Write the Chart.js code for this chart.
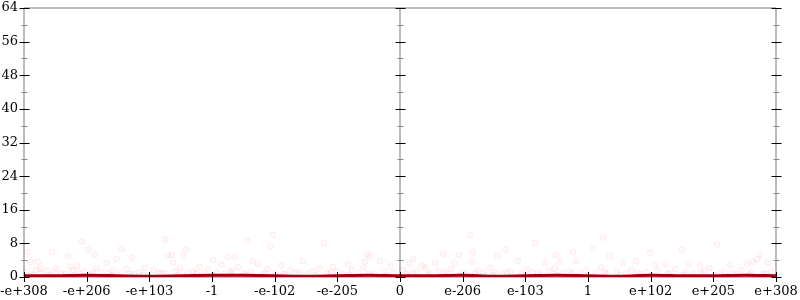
<!DOCTYPE html>
<html>
<head>
<meta charset="utf-8">
<script src="https://cdn.jsdelivr.net/npm/chart.js@4"></script>
<style>
  html, body { margin: 0; padding: 0; background: #fff; }
  #wrap { width: 800px; height: 300px; }
</style>
</head>
<body>
<div id="wrap"><canvas id="floatPlot"></canvas></div>
<script>
// tick labels of the x axis (one per integer step from -6 to 6)
const tickLabels = ['-e+308', '-e+206', '-e+103', '-1', '-e-102', '-e-205', '0',
                    'e-206', 'e-103', '1', 'e+102', 'e+205', 'e+308'];
const yTicks = [0, 8, 16, 24, 32, 40, 48, 56, 64];

// dark red count line
const lineX = [-6, -5.5, -5, -4.5, -4, -3.5, -3, -2.5, -2, -1.5, -1, -0.5, 0,
               0.5, 1, 1.5, 2, 2.5, 3, 3.5, 4, 4.5, 5, 5.5, 6];
const lineY = [0.3, 0.3, 0.4, 0.3, 0.2, 0.3, 0.4, 0.4, 0.3, 0.2, 0.3, 0.4, 0.3,
               0.3, 0.4, 0.2, 0.3, 0.4, 0.3, 0.2, 0.4, 0.3, 0.3, 0.4, 0.3];

// faint pink samples
const scatterX = [
  -5.94, -5.9, -5.78, -5.74, -5.55, -5.3, -5.27, -5.15, -5.07, -4.98, -4.87, -4.68, -4.52, -4.44,
  -4.28, -4.07, -3.75, -3.7, -3.64, -3.62, -3.46, -3.41, -3.2, -2.98, -2.85, -2.63, -2.74, -2.44,
  -2.35, -2.27, -2.07, -2.03, -1.9, -1.55, -1.21, -1.07, -0.83, -0.56, -0.53, -0.48, -0.32, -0.15,
  0.15, 0.21, 0.36, 0.56, 0.69, 0.87, 0.94, 1.12, 1.16, 1.15, 1.56, 1.68, 1.88, 2.15, 2.31, 2.49,
  2.55, 2.76, 2.81, 3.08, 3.24, 3.35, 3.56, 3.77, 3.99, 4.07, 4.23, 4.5, 4.6, 4.79, 5.06, 5.27,
  5.54, 5.63, 5.7, 5.74, 5.87,
  -5.97, -5.88, -5.81, -5.72, -5.63, -5.58, -5.49, -5.41, -5.33, -5.22, -5.12, -5.03, -4.94, -4.85,
  -4.77, -4.66, -4.58, -4.47, -4.36, -4.25, -4.16, -4.02, -3.93, -3.85, -3.74, -3.58, -3.51, -3.39,
  -3.3, -3.14, -3.06, -2.93, -2.8, -2.69, -2.58, -2.49, -2.38, -2.2, -2.12, -1.99, -1.86, -1.75,
  -1.66, -1.48, -1.39, -1.28, -1.16, -1.0, -0.9, -0.77, -0.66, -0.58, -0.42, -0.26, -0.1, 0.04,
  0.1, 0.27, 0.41, 0.49, 0.62, 0.76, 0.82, 1.0, 1.07, 1.24, 1.33, 1.44, 1.52, 1.63, 1.76, 1.94,
  2.03, 2.12, 2.26, 2.38, 2.47, 2.6, 2.69, 2.88, 2.97, 3.12, 3.21, 3.3, 3.46, 3.61, 3.7, 3.84,
  3.93, 4.12, 4.3, 4.39, 4.55, 4.68, 4.85, 4.94, 5.1, 5.19, 5.36, 5.45, 5.6, 5.79, 5.92,
  -5.85, -5.52, -5.18, -4.9, -4.6, -4.32, -4.1, -3.8, -3.55, -3.25, -2.97, -2.7, -2.43, -2.15,
  -1.83, -1.6, -1.33, -1.1, -0.8, -0.5, -0.22, 0.2, 0.45, 0.7, 0.95, 1.2, 1.48, 1.7, 1.99, 2.2,
  2.5, 2.75, 3.0, 3.27, 3.52, 3.79, 4.02, 4.27, 4.52, 4.8, 5.03, 5.3, 5.58, 5.84
];
const scatterY = [
  6.0, 3.6, 3.6, 2.0, 6.0, 5.0, 2.4, 2.6, 8.4, 6.5, 5.3, 3.4, 4.3, 6.7,
  4.6, 2.2, 8.9, 5.2, 5.2, 3.4, 5.0, 6.4, 2.4, 4.1, 2.9, 4.8, 4.8, 8.6,
  3.8, 3.1, 7.2, 10.0, 2.7, 3.8, 8.1, 2.4, 3.1, 3.6, 5.5, 4.8, 3.8, 2.5,
  3.2, 4.3, 2.6, 3.4, 5.5, 3.4, 5.3, 10.0, 5.8, 3.6, 5.0, 6.5, 3.8, 8.1, 3.4, 5.3,
  3.6, 6.0, 3.8, 6.7, 9.4, 5.0, 3.4, 3.8, 5.8, 2.9, 3.1, 6.5, 3.1, 2.9, 7.7, 2.9,
  3.1, 3.6, 4.3, 5.3, 3.4,
  1.2, 0.6, 1.8, 0.9, 1.4, 0.5, 2.1, 1.0, 0.7, 1.6, 0.9, 1.3, 0.6, 2.0,
  1.1, 0.8, 1.5, 0.9, 1.9, 0.7, 1.2, 0.5, 1.7, 1.0, 0.8, 1.4, 2.2, 0.9,
  1.3, 0.6, 1.8, 1.0, 0.7, 1.5, 2.3, 0.9, 1.2, 0.6, 1.9, 1.0, 0.8, 1.6,
  1.1, 0.7, 1.4, 2.0, 0.9, 1.2, 0.6, 1.7, 1.0, 2.2, 0.8, 1.3, 0.9, 1.6,
  0.7, 1.2, 2.1, 0.8, 1.4, 0.9, 1.9, 1.1, 0.6, 1.5, 0.9, 2.2, 1.0, 0.7, 1.3, 0.8,
  1.8, 1.0, 0.6, 1.4, 2.0, 0.9, 1.2, 0.7, 1.6, 1.0, 2.2, 0.8, 1.3, 0.9, 1.7, 0.6,
  1.1, 1.5, 0.8, 1.9, 1.0, 0.7, 1.4, 2.1, 0.9, 1.2, 0.7, 1.6, 1.0, 0.8, 1.3,
  0.4, 0.9, 0.5, 1.1, 0.4, 0.8, 0.5, 1.0, 0.4, 0.7, 0.5, 1.0, 0.4, 0.8,
  0.5, 0.9, 0.4, 1.1, 0.5, 0.8, 0.4, 0.9, 0.5, 1.0, 0.4, 0.8, 0.5, 1.1, 0.4, 0.9,
  0.5, 0.8, 0.4, 1.0, 0.5, 0.9, 0.4, 0.8, 0.5, 1.1, 0.4, 0.9, 0.5, 0.8
];

// vertical axes drawn at these x values
const axisAt = [-6, 0, 6];

const lineData = lineX.map((v, i) => ({ x: v, y: lineY[i] }));
const pinkData = scatterX.map((v, i) => ({ x: v, y: scatterY[i] }));

// axis lines + crossing tick marks
const axisDecor = {
  id: 'axisDecor',
  beforeDatasetsDraw(chart) {
    const { ctx, scales: { x, y } } = chart;
    ctx.save();
    ctx.strokeStyle = '#bbbbbb';
    ctx.lineWidth = 2;
    ctx.beginPath();
    ctx.moveTo(x.left, y.getPixelForValue(y.max));
    ctx.lineTo(x.right, y.getPixelForValue(y.max));
    ctx.moveTo(x.left, y.getPixelForValue(0));
    ctx.lineTo(x.right, y.getPixelForValue(0));
    axisAt.forEach(a => {
      const px = x.getPixelForValue(a);
      ctx.moveTo(px, y.top);
      ctx.lineTo(px, y.bottom);
    });
    ctx.stroke();
    ctx.restore();
  },
  afterDatasetsDraw(chart) {
    const { ctx, scales: { x, y } } = chart;
    ctx.save();
    ctx.lineWidth = 1;
    axisAt.forEach(a => {
      const px = Math.round(x.getPixelForValue(a)) + 0.5;
      yTicks.forEach((t, i) => {
        const py = Math.round(y.getPixelForValue(t)) + 0.5;
        ctx.strokeStyle = '#000';
        ctx.beginPath(); ctx.moveTo(px - 5, py); ctx.lineTo(px + 5, py); ctx.stroke();
        if (i < yTicks.length - 1) {
          const pm = Math.round(y.getPixelForValue((t + yTicks[i + 1]) / 2)) + 0.5;
          ctx.strokeStyle = '#888';
          ctx.beginPath(); ctx.moveTo(px - 3, pm); ctx.lineTo(px + 3, pm); ctx.stroke();
        }
      });
    });
    const py0 = y.getPixelForValue(0);
    ctx.strokeStyle = '#000';
    x.ticks.forEach(t => {
      const px = Math.round(x.getPixelForValue(t.value)) + 0.5;
      ctx.beginPath(); ctx.moveTo(px, py0 - 5); ctx.lineTo(px, py0 + 5); ctx.stroke();
    });
    ctx.restore();
  }
};

const tickFont = { family: 'DejaVu Serif', size: 13 };

const noPad = s => { s.paddingTop = 0; s.paddingBottom = 0; s.paddingLeft = 0; s.paddingRight = 0; };

new Chart(document.getElementById('floatPlot').getContext('2d'), {
  type: 'scatter',
  data: {
    datasets: [
      {
        type: 'line',
        data: lineData,
        borderColor: '#a0000f',
        borderWidth: 3,
        pointRadius: 0,
        tension: 0.3,
        order: 1
      },
      {
        data: pinkData,
        pointRadius: 3,
        backgroundColor: 'rgba(255, 40, 60, 0.035)',
        borderColor: 'rgba(230, 0, 30, 0.06)',
        borderWidth: 1,
        order: 2
      }
    ]
  },
  options: {
    responsive: true,
    maintainAspectRatio: false,
    animation: false,
    layout: { padding: { top: 8, right: 24, left: 0, bottom: 0 } },
    plugins: { legend: { display: false }, tooltip: { enabled: false } },
    scales: {
      x: {
        type: 'linear',
        min: -6,
        max: 6,
        grid: { display: false, drawTicks: false },
        border: { display: false },
        ticks: {
          stepSize: 1,
          autoSkip: false,
          maxRotation: 0,
          padding: 7,
          color: '#000',
          font: tickFont,
          callback: v => tickLabels[Math.round(v + 6)]
        },
        afterFit: s => { s.height = 23; noPad(s); }
      },
      y: {
        min: 0,
        max: 64,
        grid: { display: false, drawTicks: false },
        border: { display: false },
        ticks: { autoSkip: false, padding: 6, color: '#000', font: tickFont },
        afterBuildTicks: s => { s.ticks = yTicks.map(v => ({ value: v })); },
        afterFit: s => { s.width = 24; noPad(s); }
      }
    }
  },
  plugins: [axisDecor]
});
</script>
</body>
</html>
